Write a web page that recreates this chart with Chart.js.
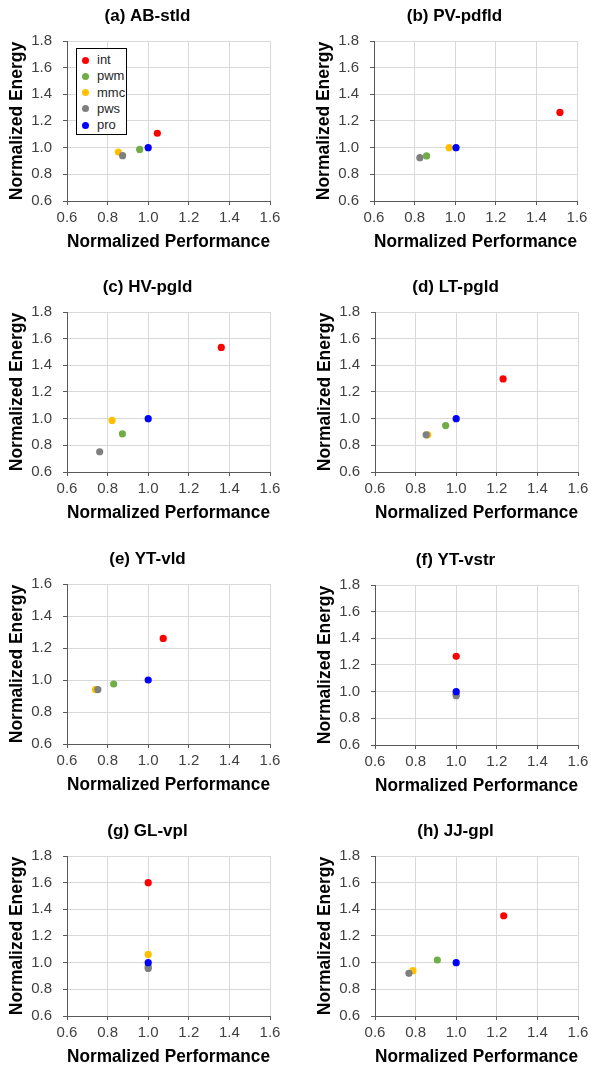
<!DOCTYPE html>
<html>
<head>
<meta charset="utf-8">
<script src="https://cdn.jsdelivr.net/npm/chart.js@4.4.1/dist/chart.umd.min.js"></script>
<style>
  html, body { margin:0; padding:0; background:#fff; }
  #page { position:relative; width:591px; height:1069px; overflow:hidden; font-family:Arial, "Liberation Sans", sans-serif; }
  .panel { position:absolute; }
  .legend { position:absolute; border:1px solid #000; background:#fff; padding:3px 0 0 0; box-sizing:border-box; }
  .legend div { height:16.3px; line-height:16px; font-size:13px; color:#262626; position:relative; padding-left:20px; }
  .legend span { position:absolute; left:5px; top:4.5px; width:7px; height:7px; border-radius:50%; }
</style>
</head>
<body>
<div id="page"></div>
<script>
// ---- data ----
const titles  = ['(a) AB-stld', '(b) PV-pdfld', '(c) HV-pgld', '(d) LT-pgld', '(e) YT-vld', '(f) YT-vstr', '(g) GL-vpl', '(h) JJ-gpl'];
const series  = ['int', 'pwm', 'mmc', 'pws', 'pro'];
const colors  = ['#ff0000', '#70ad47', '#ffc000', '#7f7f7f', '#0000ff'];
const yMaxes  = [1.8, 1.8, 1.8, 1.8, 1.6, 1.8, 1.8, 1.8];

// normalized performance (x) per panel
const perfInt = [1.045, 1.516, 1.36, 1.231, 1.074, 1.0, 1.0, 1.234];
const perfPwm = [0.958, 0.859, 0.873, 0.948, 0.83, 1.0, 1.0, 0.907];
const perfMmc = [0.853, 0.97, 0.822, 0.86, 0.74, 1.0, 1.0, 0.787];
const perfPws = [0.874, 0.826, 0.761, 0.852, 0.752, 1.0, 1.0, 0.767];
const perfPro = [1.0, 1.004, 1.0, 1.0, 1.0, 1.0, 1.0, 1.0];

// normalized energy (y) per panel
const enrgInt = [1.108, 1.264, 1.534, 1.298, 1.26, 1.265, 1.60, 1.352];
const enrgPwm = [0.987, 0.938, 0.886, 0.948, 0.975, 0.98, 0.97, 1.02];
const enrgMmc = [0.967, 1.0, 0.987, 0.879, 0.94, 0.98, 1.062, 0.94];
const enrgPws = [0.94, 0.925, 0.752, 0.879, 0.94, 0.97, 0.957, 0.92];
const enrgPro = [1.0, 1.0, 1.0, 1.0, 1.0, 1.0, 1.0, 1.0];

const perfAll = [perfInt, perfPwm, perfMmc, perfPws, perfPro];
const enrgAll = [enrgInt, enrgPwm, enrgMmc, enrgPws, enrgPro];

// canvas placement of each panel
const spots = [[0,0],[307,0],[0,271],[308,271],[0,543],[308,544],[0,815],[308,815]];

Chart.defaults.font.family = 'Arial, "Liberation Sans", sans-serif';

const page = document.getElementById('page');

titles.forEach((title, p) => {
  const wrap = document.createElement('div');
  wrap.className = 'panel';
  wrap.style.left = spots[p][0] + 'px';
  wrap.style.top  = spots[p][1] + 'px';
  const cv = document.createElement('canvas');
  cv.width = 295; cv.height = 268;
  cv.style.width = '295px'; cv.style.height = '268px';
  wrap.appendChild(cv);
  page.appendChild(wrap);

  new Chart(cv, {
    type: 'scatter',
    data: {
      datasets: series.map((s, i) => ({
        label: s,
        data: [{ x: perfAll[i][p], y: enrgAll[i][p] }],
        backgroundColor: colors[i],
        borderColor: colors[i],
        borderWidth: 0,
        pointRadius: 3.6,
        order: -i
      }))
    },
    options: {
      responsive: false,
      animation: false,
      layout: { padding: 0 },
      plugins: {
        legend: { display: false },
        tooltip: { enabled: false },
        title: {
          display: true, text: title, color: '#000',
          font: { size: 17, weight: 'bold' },
          padding: { top: 5.8, bottom: 14.8 }
        }
      },
      scales: {
        x: {
          type: 'linear', min: 0.6, max: 1.6,
          ticks: { stepSize: 0.2, color: '#404040', font: { size: 15 }, padding: 4,
                   callback: v => v.toFixed(1) },
          grid: { color: '#d9d9d9', tickColor: '#595959', tickLength: 4 },
          border: { color: '#595959' },
          title: { display: true, text: 'Normalized Performance', color: '#000',
                   font: { size: 17.5, weight: 'bold' }, padding: { top: 0, bottom: 15.5 } },
          afterFit: s => { s.height = 67; }
        },
        y: {
          type: 'linear', min: 0.6, max: yMaxes[p],
          ticks: { stepSize: 0.2, color: '#404040', font: { size: 15 }, padding: 11,
                   callback: v => v.toFixed(1) },
          grid: { color: '#d9d9d9', tickColor: '#595959', tickLength: 4 },
          border: { color: '#595959' },
          title: { display: true, text: 'Normalized Energy', color: '#000',
                   font: { size: 17.5, weight: 'bold' }, padding: { top: 6.5, bottom: 0 } },
          afterFit: s => { s.width = 67; }
        },
        // empty right-hand spacer so the title centres on the whole panel
        pad: {
          type: 'linear', position: 'right', display: true,
          ticks: { display: false }, grid: { display: false }, border: { display: false },
          afterFit: s => { s.width = 25; }
        }
      }
    }
  });
});

// legend box inside panel (a)
const lg = document.createElement('div');
lg.className = 'legend';
lg.style.left = '76px'; lg.style.top = '48px';
lg.style.width = '51px'; lg.style.height = '87px';
series.forEach((s, i) => {
  const row = document.createElement('div');
  row.innerHTML = '<span style="background:' + colors[i] + '"></span>' + s;
  lg.appendChild(row);
});
page.appendChild(lg);
</script>
</body>
</html>
